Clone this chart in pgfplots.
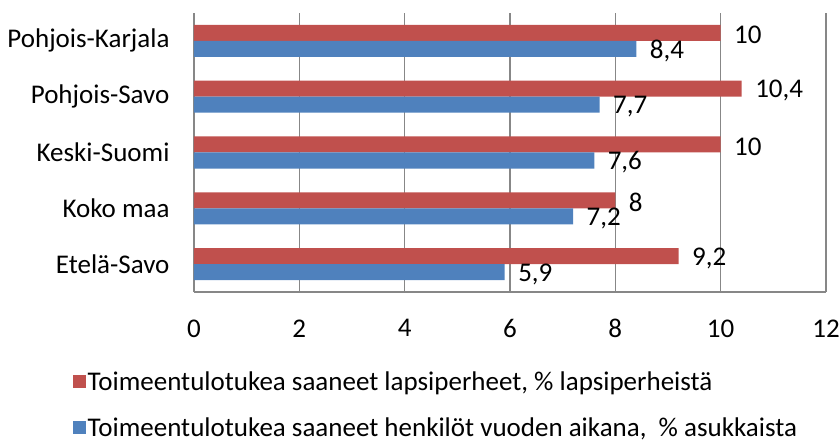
\documentclass[border=0pt]{standalone}
\usepackage{fontspec}
\setmainfont{Carlito}
\usepackage{pgfplots}
\usepackage{pgfplotstable}
\pgfplotsset{compat=1.18}
\definecolor{barred}{HTML}{C0504D}
\definecolor{barblue}{HTML}{4F81BD}
\definecolor{gridgray}{HTML}{878787}

% y: 0 = bottom category
\pgfplotstableread{
y red blue
0 9.2 5.9
1 8 7.2
2 10 7.6
3 10.4 7.7
4 10 8.4
}\datatable

\begin{document}
\begin{tikzpicture}[font=\fontsize{27}{32}\selectfont]
\path[use as bounding box] (-194pt,-152pt) rectangle (646pt,292pt);
\begin{axis}[
  scale only axis, width=632pt, height=279pt,
  xbar, bar width=16pt,
  xmin=0, xmax=12, ymin=-0.5, ymax=4.5,
  xtick={0,2,...,12}, ytick={0,...,4},
  yticklabels={Etelä-Savo,Koko maa,Keski-Suomi,Pohjois-Savo,Pohjois-Karjala},
  axis lines*=left,
  axis line style={-, gridgray, line width=1.2pt},
  major tick length=0pt,
  xmajorgrids, grid style={gridgray, line width=1.2pt},
  /pgf/number format/assume math mode=true,
  /pgf/number format/use comma,
  xticklabel style={yshift=-24pt},
  yticklabel style={xshift=-21pt},
  nodes near coords,
  nodes near coords style={anchor=west, xshift=10pt, yshift=-2pt, text=black},
  legend style={draw=none, fill=none, at={(axis description cs:-0.197,-0.27)},
    anchor=north west, legend cell align=left, row sep=22pt,
    nodes={inner sep=2pt}},
  legend image code/.code={\fill[#1] (0pt,-6.5pt) rectangle (13pt,6.5pt);},
]
\addplot[fill=barred, draw=none, bar shift=8pt] table[x=red, y=y] {\datatable};
\addplot[fill=barblue, draw=none, bar shift=-8pt] table[x=blue, y=y] {\datatable};
\legend{{Toimeentulotukea saaneet lapsiperheet, \% lapsiperheistä},
  {Toimeentulotukea saaneet henkilöt vuoden aikana, \ \% asukkaista}}
\end{axis}
\end{tikzpicture}
\end{document}
